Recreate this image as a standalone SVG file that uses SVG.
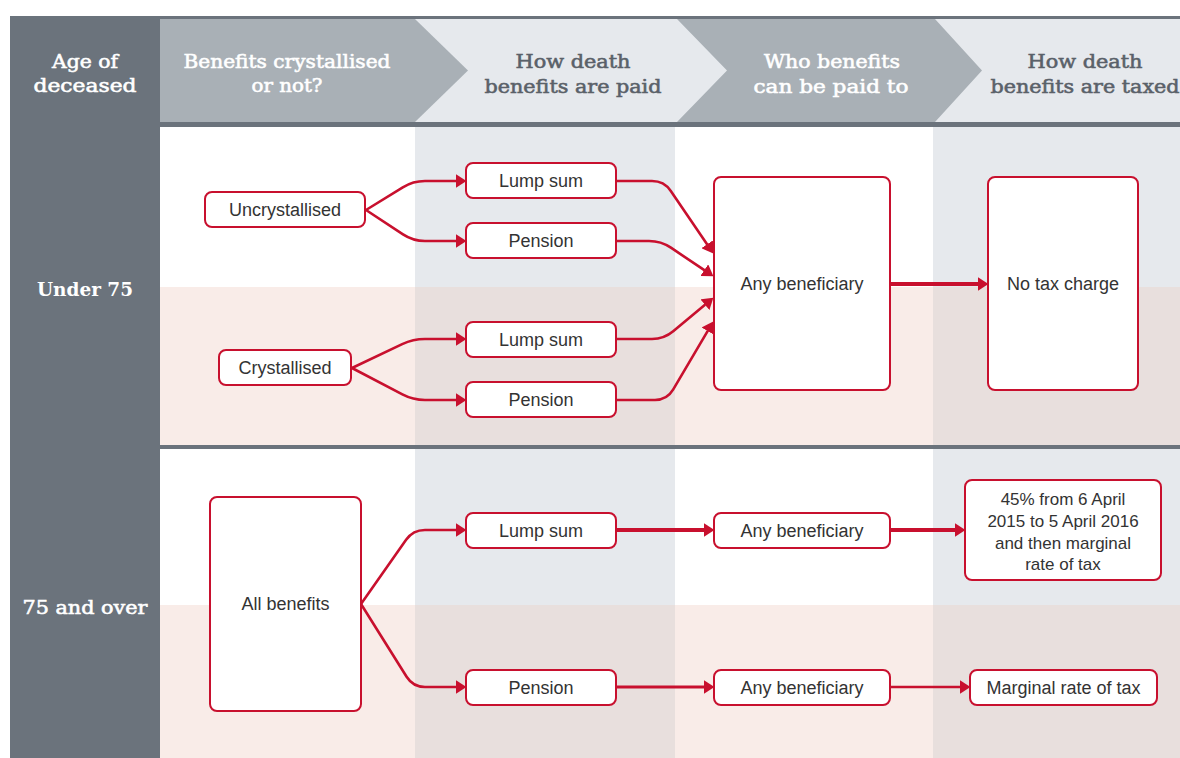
<svg xmlns="http://www.w3.org/2000/svg" width="1180" height="758" viewBox="0 0 1180 758">
  <style>
    .box { fill: #ffffff; stroke: #c8102e; stroke-width: 2; }
    .lbl { font-family: "Liberation Sans", Arial, sans-serif; font-size: 18px; fill: #333333; text-anchor: middle; }
    .lbl17 { font-family: "Liberation Sans", Arial, sans-serif; font-size: 17px; fill: #333333; text-anchor: middle; }
    .hd { font-family: "DejaVu Serif", "Liberation Serif", serif; font-size: 18px; text-anchor: middle; stroke-width: 0.55; }
    .hw { fill: #ffffff; stroke: #ffffff; }
    .hg { fill: #5a6169; stroke: #5a6169; }
    .side { font-family: "DejaVu Serif", "Liberation Serif", serif; font-size: 19px; fill: #ffffff; text-anchor: middle; }
    .c { fill: none; stroke: #c8102e; stroke-width: 2.6; stroke-linejoin: round; }
    .ct { fill: none; stroke: #c8102e; stroke-width: 3.8; }
    .cm { fill: none; stroke: #c8102e; stroke-width: 3; }
  </style>
  <defs>
    <marker id="arr" markerUnits="userSpaceOnUse" markerWidth="11" markerHeight="14" refX="0.5" refY="7" orient="auto">
      <path d="M0,0 L11,7 L0,14 z" fill="#c8102e"/>
    </marker>
  </defs>

  <!-- background bands -->
  <g id="background">
    <rect x="0" y="0" width="1180" height="758" fill="#ffffff"/>
    <!-- section 1 -->
    <rect x="160" y="127" width="255" height="160" fill="#ffffff"/>
    <rect x="415" y="127" width="260" height="160" fill="#e6e9ed"/>
    <rect x="675" y="127" width="258" height="160" fill="#ffffff"/>
    <rect x="933" y="127" width="247" height="160" fill="#e6e9ed"/>
    <rect x="160" y="287" width="255" height="158" fill="#f9ece8"/>
    <rect x="415" y="287" width="260" height="158" fill="#e8dfdd"/>
    <rect x="675" y="287" width="258" height="158" fill="#f9ece8"/>
    <rect x="933" y="287" width="247" height="158" fill="#e8dfdd"/>
    <!-- section 2 -->
    <rect x="160" y="449" width="255" height="156" fill="#ffffff"/>
    <rect x="415" y="449" width="260" height="156" fill="#e6e9ed"/>
    <rect x="675" y="449" width="258" height="156" fill="#ffffff"/>
    <rect x="933" y="449" width="247" height="156" fill="#e6e9ed"/>
    <rect x="160" y="605" width="255" height="153" fill="#f9ece8"/>
    <rect x="415" y="605" width="260" height="153" fill="#e8dfdd"/>
    <rect x="675" y="605" width="258" height="153" fill="#f9ece8"/>
    <rect x="933" y="605" width="247" height="153" fill="#e8dfdd"/>
    <!-- header -->
    <rect x="160" y="19" width="1020" height="103" fill="#e6e9ed"/>
    <polygon points="160,19 415,19 468,70.5 415,122 160,122" fill="#a9b0b6"/>
    <polygon points="677,19 935,19 982,70.5 935,122 677,122 727,70.5" fill="#a9b0b6"/>
    <!-- dark rules -->
    <rect x="10" y="16" width="1170" height="3" fill="#6b737c"/>
    <rect x="160" y="122" width="1020" height="5" fill="#6b737c"/>
    <rect x="160" y="445" width="1020" height="4" fill="#6b737c"/>
    <rect x="10" y="16" width="150" height="742" fill="#6b737c"/>
  </g>

  <g id="header">
    <text class="hd hw" x="85" y="67.5" textLength="66" lengthAdjust="spacingAndGlyphs">Age of</text>
    <text class="hd hw" x="85" y="92" textLength="103" lengthAdjust="spacingAndGlyphs">deceased</text>
    <text class="hd hw" x="287" y="67.5" textLength="207" lengthAdjust="spacingAndGlyphs">Benefits crystallised</text>
    <text class="hd hw" x="287" y="92" textLength="71" lengthAdjust="spacingAndGlyphs">or not?</text>
    <text class="hd hg" x="573" y="68" textLength="115" lengthAdjust="spacingAndGlyphs">How death</text>
    <text class="hd hg" x="573" y="93" textLength="177" lengthAdjust="spacingAndGlyphs">benefits are paid</text>
    <text class="hd hw" x="832" y="68" textLength="136" lengthAdjust="spacingAndGlyphs">Who benefits</text>
    <text class="hd hw" x="831" y="93" textLength="155" lengthAdjust="spacingAndGlyphs">can be paid to</text>
    <text class="hd hg" x="1085" y="68" textLength="115" lengthAdjust="spacingAndGlyphs">How death</text>
    <text class="hd hg" x="1085" y="93" textLength="189" lengthAdjust="spacingAndGlyphs">benefits are taxed</text>
  </g>

  <g id="row-labels">
    <text class="side" x="85" y="296" font-weight="bold" textLength="96" lengthAdjust="spacingAndGlyphs">Under 75</text>
    <text class="side" x="85" y="614" stroke="#ffffff" stroke-width="0.6" textLength="125" lengthAdjust="spacingAndGlyphs">75 and over</text>
  </g>

  <g id="connectors">
    <!-- under 75 splits -->
    <path class="c" d="M366,210 L402.8,187.3 Q413,181 425,181 H456" marker-end="url(#arr)"/>
    <path class="c" d="M366,210 L403,234.4 Q413,241 425,241 H456" marker-end="url(#arr)"/>
    <path class="c" d="M352,368 L402.2,344.2 Q413,339 425,339 H456" marker-end="url(#arr)"/>
    <path class="c" d="M352,368 L402.4,394.4 Q413,400 425,400 H456" marker-end="url(#arr)"/>
    <!-- into any beneficiary -->
    <path class="c" d="M617,181 H652 Q664,181 670.8,190.9 L707.4,244.7" marker-end="url(#arr)"/>
    <path class="c" d="M617,241 H649 Q661,241 670.9,247.7 L704.7,270.4" marker-end="url(#arr)"/>
    <path class="c" d="M617,339 H652 Q664,339 673.2,331.3 L705.3,304.4" marker-end="url(#arr)"/>
    <path class="c" d="M617,400 H655 Q667,400 673.1,389.7 L707.9,330.6" marker-end="url(#arr)"/>
    <path class="ct" d="M890,284 H978" marker-end="url(#arr)"/>
    <!-- 75 and over -->
    <path class="c" d="M361,604 L406.1,539.8 Q413,530 425,530 H456" marker-end="url(#arr)"/>
    <path class="c" d="M361,604 L406.6,676.8 Q413,687 425,687 H456" marker-end="url(#arr)"/>
    <path class="ct" d="M617,530 H704" marker-end="url(#arr)"/>
    <path class="ct" d="M890,530 H955" marker-end="url(#arr)"/>
    <path class="cm" d="M617,687 H704" marker-end="url(#arr)"/>
    <path class="c" d="M890,687 H960" marker-end="url(#arr)"/>
  </g>

  <g id="uncrystallised">
    <rect class="box" x="205" y="192" width="160" height="35" rx="7"/>
    <text class="lbl" x="285" y="216">Uncrystallised</text>
  </g>
  <g id="lump-sum-1">
    <rect class="box" x="466" y="163" width="150" height="35" rx="7"/>
    <text class="lbl" x="541" y="187">Lump sum</text>
  </g>
  <g id="pension-1">
    <rect class="box" x="466" y="223" width="150" height="35" rx="7"/>
    <text class="lbl" x="541" y="247">Pension</text>
  </g>
  <g id="crystallised">
    <rect class="box" x="219" y="350" width="132" height="35" rx="7"/>
    <text class="lbl" x="285" y="374">Crystallised</text>
  </g>
  <g id="lump-sum-2">
    <rect class="box" x="466" y="322" width="150" height="35" rx="7"/>
    <text class="lbl" x="541" y="346">Lump sum</text>
  </g>
  <g id="pension-2">
    <rect class="box" x="466" y="382" width="150" height="35" rx="7"/>
    <text class="lbl" x="541" y="406">Pension</text>
  </g>
  <g id="any-beneficiary-1">
    <rect class="box" x="714" y="177" width="176" height="213" rx="7"/>
    <text class="lbl" x="802" y="290">Any beneficiary</text>
  </g>
  <g id="no-tax-charge">
    <rect class="box" x="988" y="177" width="150" height="213" rx="7"/>
    <text class="lbl" x="1063" y="290">No tax charge</text>
  </g>

  <g id="all-benefits">
    <rect class="box" x="210" y="497" width="151" height="214" rx="7"/>
    <text class="lbl" x="285.5" y="610">All benefits</text>
  </g>
  <g id="lump-sum-3">
    <rect class="box" x="466" y="513" width="150" height="35" rx="7"/>
    <text class="lbl" x="541" y="537">Lump sum</text>
  </g>
  <g id="pension-3">
    <rect class="box" x="466" y="670" width="150" height="35" rx="7"/>
    <text class="lbl" x="541" y="694">Pension</text>
  </g>
  <g id="any-beneficiary-2">
    <rect class="box" x="714" y="513" width="176" height="35" rx="7"/>
    <text class="lbl" x="802" y="537">Any beneficiary</text>
  </g>
  <g id="any-beneficiary-3">
    <rect class="box" x="714" y="670" width="176" height="35" rx="7"/>
    <text class="lbl" x="802" y="694">Any beneficiary</text>
  </g>
  <g id="tax-45">
    <rect class="box" x="965" y="480" width="196" height="100" rx="7"/>
    <text class="lbl17" x="1063" y="505">45% from 6 April</text>
    <text class="lbl17" x="1063" y="527">2015 to 5 April 2016</text>
    <text class="lbl17" x="1063" y="549">and then marginal</text>
    <text class="lbl17" x="1063" y="570">rate of tax</text>
  </g>
  <g id="marginal-rate">
    <rect class="box" x="970" y="670" width="187" height="35" rx="7"/>
    <text class="lbl" x="1063.5" y="694">Marginal rate of tax</text>
  </g>
</svg>
